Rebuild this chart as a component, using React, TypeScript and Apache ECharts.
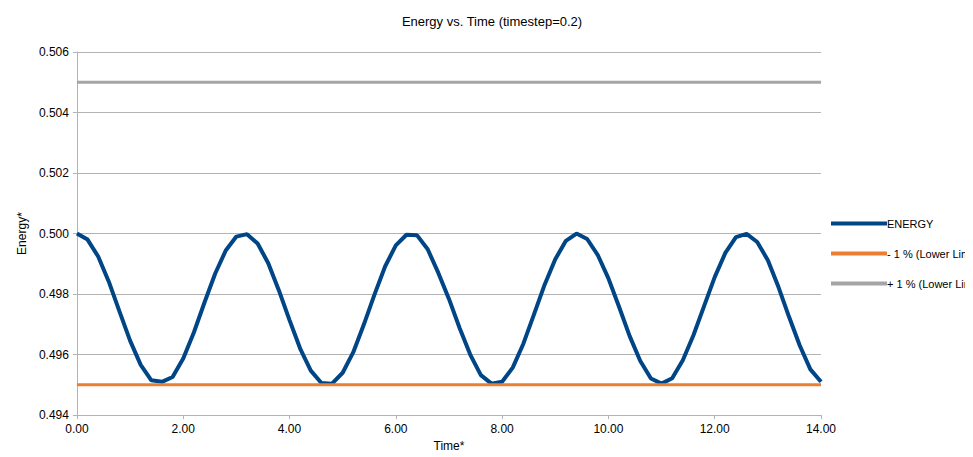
import * as echarts from 'echarts';
import React, { useEffect, useRef } from 'react';

const timeStep = 0.2;
const energy = [
  0.5, 0.4998, 0.49924, 0.49841, 0.49743, 0.49646, 0.49566, 0.49515, 0.4951, 0.49526,
  0.49587, 0.49673, 0.49772, 0.49867, 0.49944, 0.4999, 0.49998, 0.49967, 0.49902, 0.49812,
  0.49714, 0.4962, 0.49547, 0.49506, 0.49504, 0.4954, 0.49608, 0.497, 0.49799, 0.49892,
  0.49961, 0.49996, 0.49994, 0.49948, 0.4987, 0.49784, 0.49688, 0.496, 0.49532, 0.49504,
  0.4951, 0.49557, 0.49636, 0.49733, 0.49831, 0.49915, 0.49976, 0.5, 0.49982, 0.49929,
  0.49852, 0.49758, 0.49661, 0.49579, 0.49521, 0.49504, 0.49522, 0.49581, 0.49664, 0.4976,
  0.49856, 0.49936, 0.49988, 0.49999, 0.49972, 0.49912, 0.49823, 0.49724, 0.4963, 0.49551,
  0.4951,
];
const lowerLimit = 0.495;
const upperLimit = 0.505;
const timeRange = [0, 14];

const App: React.FC = () => {
  const chartRef = useRef<HTMLDivElement>(null);

  useEffect(() => {
    if (!chartRef.current) return;
    const chart = echarts.init(chartRef.current, undefined, { renderer: 'svg' });
    const font = 'Liberation Sans, Arial, sans-serif';

    const option: echarts.EChartsOption = {
      animation: false,
      textStyle: { fontFamily: font },
      title: {
        text: 'Energy vs. Time (timestep=0.2)',
        left: 479,
        textAlign: 'center',
        top: 2,
        textStyle: { fontSize: 13, fontWeight: 'normal', color: '#000', fontFamily: font },
      },
      legend: {
        orient: 'vertical',
        left: 818,
        top: 205,
        itemGap: 19,
        itemWidth: 56,
        itemHeight: 4,
        icon: 'rect',
        textStyle: { fontSize: 11, color: '#000', padding: [0, 0, 0, -5] },
        data: ['ENERGY', '- 1 % (Lower Limit)', '+ 1 % (Lower Limit)'],
      },
      grid: { left: 54, right: 152, top: 44, bottom: 40 },
      xAxis: {
        type: 'value',
        min: 0,
        max: 14,
        interval: 2,
        name: 'Time*',
        nameLocation: 'middle',
        nameGap: 22,
        nameTextStyle: { fontSize: 12, color: '#000' },
        axisLine: { lineStyle: { color: '#b3b3b3' } },
        axisTick: { show: true, length: 4, lineStyle: { color: '#b3b3b3' } },
        axisLabel: { formatter: (v: number) => v.toFixed(2), fontSize: 12, color: '#000' },
        splitLine: { show: false },
      },
      yAxis: {
        type: 'value',
        min: 0.494,
        max: 0.506,
        interval: 0.002,
        name: 'Energy*',
        nameLocation: 'middle',
        nameGap: 46,
        nameTextStyle: { fontSize: 12, color: '#000' },
        axisLine: { show: true, lineStyle: { color: '#b3b3b3' } },
        axisTick: { show: true, length: 4, lineStyle: { color: '#b3b3b3' } },
        axisLabel: { formatter: (v: number) => v.toFixed(3), fontSize: 12, color: '#000' },
        splitLine: { lineStyle: { color: '#b3b3b3' } },
      },
      series: [
        {
          name: 'ENERGY',
          type: 'line',
          data: energy.map((v, i) => [+(i * timeStep).toFixed(1), v]),
          showSymbol: false,
          lineStyle: { color: '#004586', width: 4 },
          itemStyle: { color: '#004586' },
        },
        {
          name: '- 1 % (Lower Limit)',
          type: 'line',
          data: timeRange.map((t) => [t, lowerLimit]),
          showSymbol: false,
          lineStyle: { color: '#ed7d31', width: 3 },
          itemStyle: { color: '#ed7d31' },
        },
        {
          name: '+ 1 % (Lower Limit)',
          type: 'line',
          data: timeRange.map((t) => [t, upperLimit]),
          showSymbol: false,
          lineStyle: { color: '#a5a5a5', width: 3 },
          itemStyle: { color: '#a5a5a5' },
        },
      ],
    };

    chart.setOption(option);
    return () => chart.dispose();
  }, []);

  return <div ref={chartRef} style={{ width: 965, height: 449 }} />;
};

export default App;
